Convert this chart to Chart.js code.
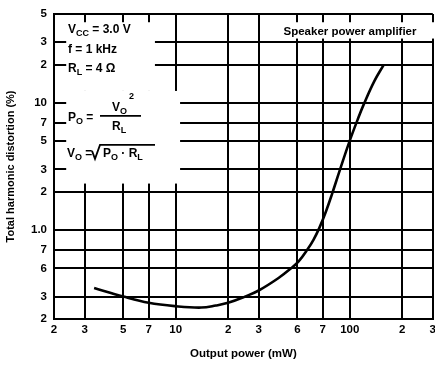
<!DOCTYPE html>
<html>
<head>
<meta charset="utf-8">
<script src="https://cdn.jsdelivr.net/npm/chart.js@4"></script>
<style>
  html, body { margin: 0; padding: 0; background: #fff; overflow: hidden; }
  canvas { display: block; }
</style>
</head>
<body>
<canvas id="thd" width="440" height="368"></canvas>
<script>
// THD vs output power - speaker power amplifier
const xTicks = [2, 3, 5, 7, 10, 20, 30, 50, 70, 100, 200, 300];
const xTickLabels = ['2', '3', '5', '7', '10', '2', '3', '6', '7', '100', '2', '3'];
const yTicks = [0.2, 0.3, 0.5, 0.7, 1, 2, 3, 5, 7, 10, 20, 30, 50];
const yTickLabels = ['2', '3', '6', '7', '1.0', '2', '3', '5', '7', '10', '2', '3', '5'];

const powerMW = [3.4, 5, 7, 10, 14, 17, 20, 25, 30, 39, 46, 51, 57, 62, 67, 73, 79, 88, 99, 111, 121, 138, 157];
const thdPct  = [0.35, 0.30, 0.268, 0.252, 0.246, 0.255, 0.268, 0.30, 0.335, 0.42, 0.5, 0.57, 0.7, 0.842, 1.045, 1.40, 1.91, 3.0, 4.85, 7.38, 9.9, 14.7, 20];

const FONT = '"Liberation Sans", Arial, sans-serif';

function drawParts(ctx, parts, x, y) {
    // n = normal, s = subscript, p = superscript
    for (const [t, k] of parts) {
        ctx.font = (k === 'n' ? 'bold 12px ' : 'bold 9px ') + FONT;
        const dy = k === 's' ? 3 : (k === 'p' ? -8 : 0);
        ctx.fillText(t, x, y + dy);
        x += ctx.measureText(t).width;
    }
    return x;
}

const notes = {
    id: 'notes',
    beforeDatasetsDraw(chart) {
        const { ctx, scales: { x, y } } = chart;
        ctx.save();
        ctx.fillStyle = '#fff';
        // blank areas behind the text blocks
        let l = x.getPixelForValue(2.35), t = y.getPixelForValue(43);
        let m = y.getPixelForValue(12.4), b = y.getPixelForValue(2.32);
        ctx.fillRect(l, t, x.getPixelForValue(7.6) - l, m - t);
        ctx.fillRect(l, m, x.getPixelForValue(10.6) - l, b - m);
        l = x.getPixelForValue(38.8);
        ctx.fillRect(l, t, chart.width - l, y.getPixelForValue(32) - t);
        ctx.restore();
    },
    afterDraw(chart) {
        const { ctx, chartArea: { left: L, top: T } } = chart;
        ctx.save();
        ctx.fillStyle = '#000';
        ctx.strokeStyle = '#000';
        ctx.textBaseline = 'alphabetic';
        ctx.textAlign = 'left';
        drawParts(ctx, [['V', 'n'], ['CC', 's'], [' = 3.0 V', 'n']], L + 14, T + 19);
        drawParts(ctx, [['f = 1 kHz', 'n']], L + 14, T + 39);
        drawParts(ctx, [['R', 'n'], ['L', 's'], [' = 4 \u03A9', 'n']], L + 14, T + 58);

        // P_O = V_O^2 / R_L
        drawParts(ctx, [['P', 'n'], ['O', 's'], [' =', 'n']], L + 14, T + 107);
        ctx.lineWidth = 1.8;
        ctx.beginPath();
        ctx.moveTo(L + 46, T + 102); ctx.lineTo(L + 87, T + 102);
        ctx.stroke();
        drawParts(ctx, [['V', 'n'], ['O', 's']], L + 58, T + 97);
        drawParts(ctx, [['2', 'p']], L + 75, T + 93);
        drawParts(ctx, [['R', 'n'], ['L', 's']], L + 58, T + 116);

        // V_O = sqrt(P_O . R_L)
        drawParts(ctx, [['V', 'n'], ['O', 's'], [' =', 'n']], L + 13, T + 143);
        ctx.beginPath();
        ctx.moveTo(L + 38, T + 137);
        ctx.lineTo(L + 41, T + 145);
        ctx.lineTo(L + 46, T + 131);
        ctx.lineTo(L + 101, T + 131);
        ctx.stroke();
        drawParts(ctx, [['P', 'n'], ['O', 's'], [' \u00B7 R', 'n'], ['L', 's']], L + 49, T + 143);

        ctx.font = 'bold 11.5px ' + FONT;
        ctx.textAlign = 'center';
        ctx.fillText('Speaker power amplifier', L + 296, T + 21);
        ctx.restore();
    }
};

new Chart(document.getElementById('thd').getContext('2d'), {
    type: 'line',
    data: {
        datasets: [{
            data: powerMW.map((p, i) => ({ x: p, y: thdPct[i] })),
            borderColor: '#000',
            borderWidth: 2.6,
            pointRadius: 0,
            fill: false,
            tension: 0.4
        }]
    },
    options: {
        responsive: false,
        animation: false,
        events: [],
        layout: { padding: { top: 10, right: 4, left: 0, bottom: 0 } },
        plugins: { legend: { display: false }, tooltip: { enabled: false } },
        scales: {
            x: {
                type: 'logarithmic',
                min: 2, max: 300,
                afterBuildTicks: s => { s.ticks = xTicks.map(v => ({ value: v })); },
                afterFit: s => { s.height = 49; },
                ticks: {
                    autoSkip: false, maxRotation: 0, padding: 4,
                    color: '#000', font: { family: FONT, size: 11.5, weight: 'bold' },
                    callback: (v, i) => xTickLabels[i]
                },
                grid: { color: '#000', lineWidth: 2, drawTicks: false },
                border: { color: '#000', width: 2 },
                title: {
                    display: true, text: 'Output power (mW)', color: '#000',
                    font: { family: FONT, size: 11.5, weight: 'bold' },
                    padding: { top: 0, bottom: 7 }
                }
            },
            y: {
                type: 'logarithmic',
                min: 0.2, max: 50,
                afterBuildTicks: s => { s.ticks = yTicks.map(v => ({ value: v })); },
                afterFit: s => { s.width = 54; },
                ticks: {
                    autoSkip: false, padding: 7,
                    color: '#000', font: { family: FONT, size: 11.5, weight: 'bold' },
                    callback: (v, i) => yTickLabels[i]
                },
                grid: { color: '#000', lineWidth: 2, drawTicks: false },
                border: { color: '#000', width: 2 },
                title: {
                    display: true, text: 'Total harmonic distortion (%)', color: '#000',
                    font: { family: FONT, size: 11, weight: 'bold' },
                    padding: { top: 4, bottom: 0 }
                }
            }
        }
    },
    plugins: [notes]
});
</script>
</body>
</html>
